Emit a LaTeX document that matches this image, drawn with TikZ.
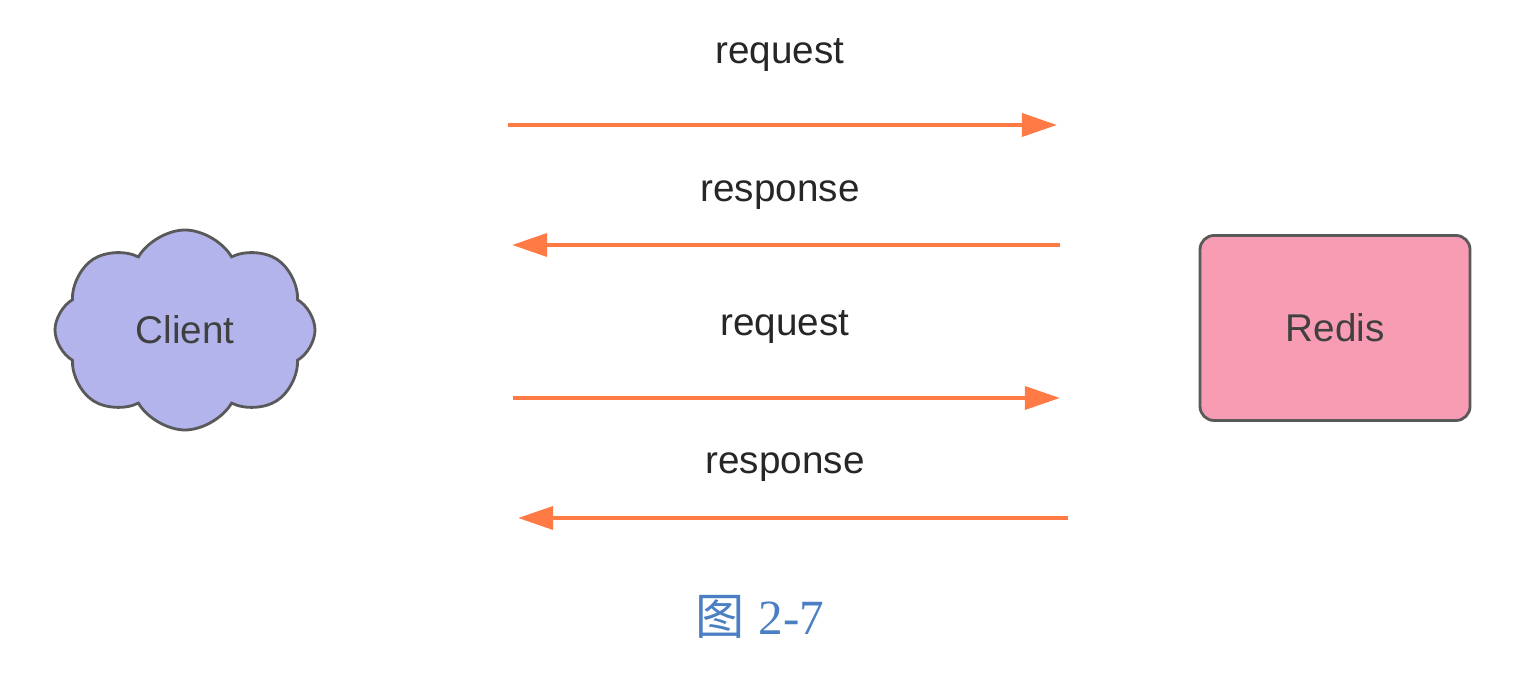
\documentclass[tikz,border=0pt]{standalone}
\usepackage{fontspec}
\setmainfont{Liberation Sans}
\newfontfamily\cjk{Noto Sans CJK SC}
\newfontfamily\capserif{Liberation Serif}
\usetikzlibrary{arrows.meta, shapes.symbols, positioning}
\definecolor{clientblue}{HTML}{B4B4EC}
\definecolor{redispink}{HTML}{F79CB3}
\definecolor{msgorange}{HTML}{FF7A45}
\definecolor{capblue}{HTML}{4B7FC4}

\begin{document}
\begin{tikzpicture}[
		cloudbox/.style = {cloud, cloud puffs=8, cloud puff arc=120, aspect=1.3, draw=black!65, line width=0.8pt, fill=clientblue, minimum width=2.6cm, minimum height=2cm, inner sep=0pt},
		box/.style = {draw=black!65, line width=0.8pt, fill=redispink, rounded corners=4pt, minimum width=2.7cm, minimum height=1.85cm},
		msg/.style = {draw=msgorange, line width=1.2pt, -{Triangle[length=10pt,width=6.5pt,fill=msgorange]}},
		lbl/.style = {font=\fontsize{11}{13}\selectfont, text=black!85}]
		\useasboundingbox (0,0) rectangle (15.16,6.88);
		\node [cloudbox, font=\fontsize{11}{13}\selectfont, text=black!75] (client) at (1.85,3.58) {Client};
		\node [box, font=\fontsize{11}{13}\selectfont, text=black!75] (redis) at (13.35,3.60) {Redis};
		% message ends
		\coordinate (req1s) at (5.08,5.63);
		\coordinate (req1e) at (10.57,5.63);
		\coordinate (res1s) at (10.60,4.43);
		\coordinate (res1e) at (5.12,4.43);
		\coordinate (req2s) at (5.13,2.90);
		\coordinate (req2e) at (10.60,2.90);
		\coordinate (res2s) at (10.68,1.70);
		\coordinate (res2e) at (5.18,1.70);
		\draw [msg] (req1s) -- (req1e);
		\draw [msg] (res1s) -- (res1e);
		\draw [msg] (req2s) -- (req2e);
		\draw [msg] (res2s) -- (res2e);
		\node [lbl] (req1) at (7.80,6.33) {request};
		\node [lbl] (res1) at (7.80,4.93) {response};
		\node [lbl] (req2) at (7.85,3.61) {request};
		\node [lbl] (res2) at (7.85,2.21) {response};
		\node [text=capblue, font=\fontsize{14}{16}\selectfont] (caption) at (7.60,0.71) {{\cjk 图} {\capserif 2-7}};
	\end{tikzpicture}
\end{document}
